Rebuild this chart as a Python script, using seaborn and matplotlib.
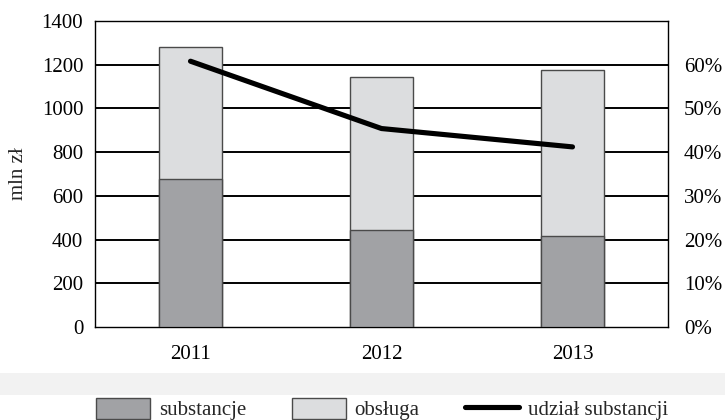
import matplotlib
matplotlib.use("Agg")
import matplotlib.pyplot as plt
import seaborn as sns
import pandas as pd
from matplotlib.patches import Patch, Rectangle
from matplotlib.lines import Line2D

years = ["2011", "2012", "2013"]
substancje = [677, 443, 415]
total = [1281, 1142, 1176]
udzial = [60.8, 45.4, 41.2]
left_ticks = [0, 200, 400, 600, 800, 1000, 1200, 1400]
right_ticks = [0, 10, 20, 30, 40, 50, 60]

sns.set_theme(style="white")
plt.rcParams["font.family"] = ["Liberation Serif", "DejaVu Serif"]

dark = "#a1a2a5"
light = "#dcdddf"
edge = "#4a4a4a"
FS = 15

fig = plt.figure(figsize=(7.25, 4.2), dpi=100)
ax = fig.add_axes([95/725, 93/420, 573/725, 306/420])

df = pd.DataFrame({"year": years, "sub": substancje, "tot": total})
sns.barplot(data=df, x="year", y="tot", color=light, edgecolor=edge, linewidth=1.0,
            width=0.325, saturation=1, ax=ax, zorder=3)
sns.barplot(data=df, x="year", y="sub", color=dark, edgecolor=edge, linewidth=1.0,
            width=0.325, saturation=1, ax=ax, zorder=4)

ax.set_xlim(-0.5, 2.5)
ax.set_ylim(0, 1400)
ax.set_yticks(left_ticks)
ax.set_yticklabels([str(t) for t in left_ticks])
for t in left_ticks[1:-1]:
    ax.axhline(t, color="black", lw=1.4, zorder=1)
ax.set_xlabel("")
ax.set_ylabel("mln zł", fontsize=FS, labelpad=10)
ax.tick_params(axis="both", length=0, labelsize=FS, colors="black")
ax.tick_params(axis="y", pad=8.5)
ax.tick_params(axis="x", pad=13)
for s in ax.spines.values():
    s.set_color("black")
    s.set_linewidth(1.0)
    s.set_visible(True)

ax2 = ax.twinx()
sns.lineplot(x=[0, 1, 2], y=udzial, color="black", lw=3.7, ax=ax2,
             solid_capstyle="round", solid_joinstyle="round", zorder=5)
ax2.set_ylim(0, 70)
ax2.set_yticks(right_ticks)
ax2.set_yticklabels([f"{t}%" for t in right_ticks])
ax2.tick_params(axis="y", length=0, labelsize=FS, pad=11.5, colors="black")
for s in ax2.spines.values():
    s.set_visible(False)

fig.patches.append(Rectangle((0, 25/420), 1, 22/420, transform=fig.transFigure,
                             facecolor="#f2f2f2", edgecolor="none", zorder=0))

handles = [Patch(facecolor=dark, edgecolor=edge, lw=1.0, label="substancje"),
           Patch(facecolor=light, edgecolor=edge, lw=1.0, label="obsługa"),
           Line2D([0], [0], color="black", lw=3.7, label="udział substancji")]
fig.legend(handles=handles, loc="center", bbox_to_anchor=(382/725, 11/420), ncol=3,
           frameon=False, fontsize=FS, handlelength=2.6, handleheight=1.2,
           columnspacing=2.2, handletextpad=0.4, borderpad=0.1)

fig.savefig("out.png", dpi=100)
